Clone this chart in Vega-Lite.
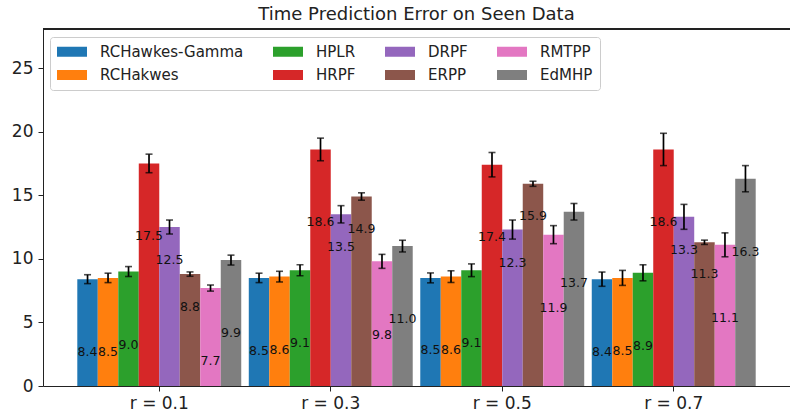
{
  "$schema": "https://vega.github.io/schema/vega-lite/v6.json",
  "width": 747,
  "height": 357,
  "autosize": {"type": "none"},
  "padding": {"left": 43, "top": 29, "right": 0, "bottom": 32},
  "background": "white",
  "title": {
    "text": "Time Prediction Error on Seen Data",
    "font": "DejaVu Sans",
    "fontSize": 18,
    "fontWeight": "normal",
    "color": "#222",
    "baseline": "alphabetic",
    "offset": 8,
    "dy": 17,
    "anchor": "middle"
  },
  "config": {
    "view": {"stroke": null},
    "font": "DejaVu Sans",
    "axis": {
      "domainColor": "#222",
      "tickColor": "#222",
      "labelColor": "#222",
      "labelFont": "DejaVu Sans",
      "labelFontSize": 17,
      "grid": false,
      "tickSize": 5,
      "domainWidth": 1,
      "tickWidth": 1
    }
  },
  "data": {
    "values": [
      {"r": "r = 0.1", "model": "RCHawkes-Gamma", "value": 8.4, "err": 0.35, "label_at": 2.70},
      {"r": "r = 0.1", "model": "RCHakwes", "value": 8.5, "err": 0.37, "label_at": 2.70},
      {"r": "r = 0.1", "model": "HPLR", "value": 9.0, "err": 0.39, "label_at": 3.22},
      {"r": "r = 0.1", "model": "HRPF", "value": 17.5, "err": 0.73, "label_at": 11.79},
      {"r": "r = 0.1", "model": "DRPF", "value": 12.5, "err": 0.55, "label_at": 9.9},
      {"r": "r = 0.1", "model": "ERPP", "value": 8.8, "err": 0.17, "label_at": 6.18},
      {"r": "r = 0.1", "model": "RMTPP", "value": 7.7, "err": 0.24, "label_at": 1.99},
      {"r": "r = 0.1", "model": "EdMHP", "value": 9.9, "err": 0.39, "label_at": 4.14},
      {"r": "r = 0.3", "model": "RCHawkes-Gamma", "value": 8.5, "err": 0.37, "label_at": 2.78},
      {"r": "r = 0.3", "model": "RCHakwes", "value": 8.6, "err": 0.42, "label_at": 2.8},
      {"r": "r = 0.3", "model": "HPLR", "value": 9.1, "err": 0.43, "label_at": 3.41},
      {"r": "r = 0.3", "model": "HRPF", "value": 18.6, "err": 0.89, "label_at": 12.92},
      {"r": "r = 0.3", "model": "DRPF", "value": 13.5, "err": 0.68, "label_at": 10.9},
      {"r": "r = 0.3", "model": "ERPP", "value": 14.9, "err": 0.29, "label_at": 12.32},
      {"r": "r = 0.3", "model": "RMTPP", "value": 9.8, "err": 0.55, "label_at": 4.01},
      {"r": "r = 0.3", "model": "EdMHP", "value": 11.0, "err": 0.46, "label_at": 5.27},
      {"r": "r = 0.5", "model": "RCHawkes-Gamma", "value": 8.5, "err": 0.39, "label_at": 2.83},
      {"r": "r = 0.5", "model": "RCHakwes", "value": 8.6, "err": 0.46, "label_at": 2.83},
      {"r": "r = 0.5", "model": "HPLR", "value": 9.1, "err": 0.5, "label_at": 3.35},
      {"r": "r = 0.5", "model": "HRPF", "value": 17.4, "err": 0.96, "label_at": 11.69},
      {"r": "r = 0.5", "model": "DRPF", "value": 12.3, "err": 0.75, "label_at": 9.7},
      {"r": "r = 0.5", "model": "ERPP", "value": 15.9, "err": 0.2, "label_at": 13.36},
      {"r": "r = 0.5", "model": "RMTPP", "value": 11.9, "err": 0.71, "label_at": 6.1},
      {"r": "r = 0.5", "model": "EdMHP", "value": 13.7, "err": 0.65, "label_at": 8.07},
      {"r": "r = 0.7", "model": "RCHawkes-Gamma", "value": 8.4, "err": 0.56, "label_at": 2.65},
      {"r": "r = 0.7", "model": "RCHakwes", "value": 8.5, "err": 0.59, "label_at": 2.78},
      {"r": "r = 0.7", "model": "HPLR", "value": 8.9, "err": 0.63, "label_at": 3.14},
      {"r": "r = 0.7", "model": "HRPF", "value": 18.6, "err": 1.27, "label_at": 12.92},
      {"r": "r = 0.7", "model": "DRPF", "value": 13.3, "err": 0.98, "label_at": 10.69},
      {"r": "r = 0.7", "model": "ERPP", "value": 11.3, "err": 0.17, "label_at": 8.8},
      {"r": "r = 0.7", "model": "RMTPP", "value": 11.1, "err": 0.94, "label_at": 5.32},
      {"r": "r = 0.7", "model": "EdMHP", "value": 16.3, "err": 1.03, "label_at": 10.51}
    ]
  },
  "layer": [
    {
      "encoding": {
        "x": {
          "field": "r",
          "type": "nominal",
          "title": null,
          "scale": {"paddingInner": 0.044, "paddingOuter": 0.2},
          "axis": {"labelAngle": 0, "labelPadding": 4, "title": null}
        },
        "xOffset": {
          "field": "model",
          "type": "nominal",
          "scale": {
            "domain": ["RCHawkes-Gamma", "RCHakwes", "HPLR", "HRPF", "DRPF", "ERPP", "RMTPP", "EdMHP"],
            "paddingInner": 0,
            "paddingOuter": 0
          }
        }
      },
      "layer": [
        {
          "mark": {"type": "bar"},
          "encoding": {
            "y": {
              "field": "value",
              "type": "quantitative",
              "title": null,
              "scale": {"domain": [0, 28.07], "nice": false},
              "axis": {"values": [0, 5, 10, 15, 20, 25], "labelPadding": 5, "title": null}
            },
            "color": {
              "field": "model",
              "type": "nominal",
              "scale": {
                "domain": ["RCHawkes-Gamma", "RCHakwes", "HPLR", "HRPF", "DRPF", "ERPP", "RMTPP", "EdMHP"],
                "range": ["#1f77b4", "#ff7f0e", "#2ca02c", "#d62728", "#9467bd", "#8c564b", "#e377c2", "#7f7f7f"]
              },
              "legend": {
                "title": null,
                "orient": "none",
                "legendX": 7,
                "legendY": 8,
                "columns": 4,
                "gridAlign": "each",
                "columnPadding": 29,
                "rowPadding": 7.5,
                "symbolType": "M-1,-0.667H3V0.667H-1Z",
                "symbolSize": 225,
                "symbolStrokeWidth": 0,
                "symbolOpacity": 1,
                "labelOffset": 28,
                "labelFont": "DejaVu Sans",
                "labelFontSize": 15,
                "labelColor": "#222",
                "strokeColor": "#cccccc",
                "fillColor": "white",
                "padding": 7,
                "cornerRadius": 3
              }
            }
          }
        },
        {
          "mark": {
            "type": "errorbar",
            "color": "black",
            "ticks": {"size": 7, "thickness": 1.6, "color": "black"},
            "rule": {"strokeWidth": 1.7}
          },
          "encoding": {
            "y": {"field": "value", "type": "quantitative", "title": null},
            "yError": {"field": "err"}
          }
        },
        {
          "mark": {"type": "text", "font": "DejaVu Sans", "fontSize": 12.5, "color": "#111", "baseline": "middle", "align": "center"},
          "encoding": {
            "y": {"field": "label_at", "type": "quantitative", "title": null},
            "text": {"field": "value", "type": "quantitative", "format": ".1f"}
          }
        }
      ]
    },
    {
      "mark": {"type": "rule", "color": "#222", "strokeWidth": 1},
      "encoding": {"y": {"datum": 28.07, "title": null}}
    }
  ]
}
